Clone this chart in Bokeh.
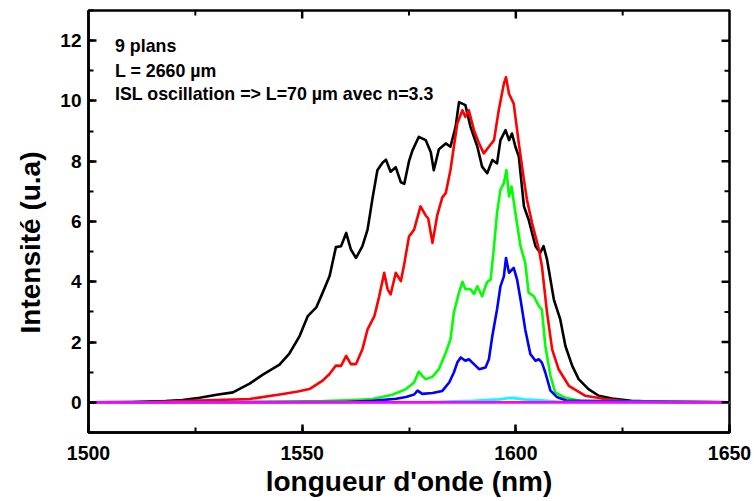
import numpy as np
from bokeh.plotting import figure
from bokeh.models import Range1d, SingleIntervalTicker, Label, Title
from bokeh.embed import file_html
from bokeh.resources import INLINE

# ---- data ----
black_x = [1500, 1510, 1518, 1522, 1526, 1530, 1533.8, 1537.7, 1540.8, 1544.7, 1547.0, 1549.4,
           1551.3, 1553.3, 1554.8, 1556.4, 1557.9, 1559.1, 1560.3, 1561.4, 1562.6, 1564.1, 1565.3,
           1566.5, 1567.6, 1568.8, 1569.6, 1570.7, 1571.9, 1573.1, 1573.9, 1575.0, 1575.8, 1577.3,
           1578.9, 1580.1, 1580.8, 1582.0, 1583.6, 1584.7, 1585.9, 1586.7, 1588.2, 1589.4, 1591.0,
           1592.1, 1593.3, 1594.5, 1595.6, 1596.4, 1597.6, 1598.4, 1599.1, 1599.9, 1600.7, 1601.9,
           1603.0, 1604.6, 1605.7, 1606.5, 1607.3, 1608.9, 1610.4, 1611.6, 1613.2, 1614.7, 1617.0,
           1619.4, 1622.5, 1627, 1635, 1650]
black_y = [0.0, 0.01, 0.04, 0.08, 0.15, 0.25, 0.33, 0.62, 0.92, 1.25, 1.62, 2.2,
           2.86, 3.15, 3.64, 4.18, 5.15, 5.18, 5.62, 5.07, 4.79, 5.18, 5.73,
           6.8, 7.7, 7.95, 8.05, 7.65, 7.8, 7.3, 7.25, 8.0, 8.35, 8.81,
           8.7, 8.3, 7.7, 8.4, 8.59, 8.48, 9.14, 9.96, 9.86, 9.14, 8.48,
           7.82, 7.6, 8.04, 7.93, 8.7, 9.03, 8.7, 8.92, 8.48, 8.15, 6.5,
           6.06, 5.18, 4.96, 5.18, 4.74, 3.41, 2.75, 1.87, 1.21, 0.77, 0.44,
           0.22, 0.13, 0.05, 0.01, 0.0]

red_x = [1500, 1515, 1522, 1530, 1537.7, 1545.5, 1549, 1551.7, 1554.8, 1556.4, 1557.9, 1559.1,
         1560.3, 1561.4, 1562.6, 1564.1, 1565.3, 1566.9, 1568.0, 1569.2, 1570.0, 1570.7, 1571.9,
         1573.1, 1573.9, 1575.0, 1576.2, 1577.7, 1578.9, 1579.5, 1580.5, 1581.6, 1582.8, 1583.6,
         1584.7, 1585.5, 1586.3, 1587.5, 1588.2, 1589.0, 1590.2, 1591.4, 1592.5, 1593.7, 1594.9,
         1596.0, 1597.2, 1597.7, 1598.4, 1599.5, 1600.7, 1601.9, 1602.6, 1603.8, 1605.4, 1606.1,
         1607.3, 1608.5, 1610.0, 1612.4, 1616.2, 1620.9, 1626, 1650]
red_y = [0.0, 0.01, 0.04, 0.08, 0.11, 0.28, 0.36, 0.44, 0.72, 0.94, 1.22, 1.21,
         1.54, 1.27, 1.27, 1.76, 2.42, 2.86, 3.5, 4.3, 3.75, 3.58, 4.3,
         4.02, 4.6, 5.5, 5.73, 6.5, 6.2, 6.1, 5.29, 6.2, 6.8, 6.94,
         7.71, 8.48, 9.25, 9.69, 9.47, 9.69, 9.03, 8.59, 8.26, 8.48, 8.7,
         9.69, 10.57, 10.79, 10.24, 9.91, 8.59, 7.38, 6.72, 5.95, 5.07, 4.52,
         2.98, 1.76, 1.1, 0.55, 0.22, 0.11, 0.03, 0.0]

green_x = [1500, 1540, 1555, 1562, 1566.5, 1571.1, 1574.3, 1576.2, 1577.3, 1578.1, 1578.9, 1580.5,
           1582.0, 1583.6, 1584.7, 1585.5, 1586.7, 1587.5, 1588.2, 1589.4, 1590.2, 1591.0, 1592.1,
           1593.3, 1594.1, 1594.9, 1595.6, 1596.4, 1597.2, 1597.8, 1598.4, 1599.0, 1599.9, 1601.1,
           1602.2, 1603.0, 1604.2, 1605.4, 1606.1, 1606.9, 1608.1, 1609.2, 1611.6, 1615, 1650]
green_y = [0.0, 0.01, 0.04, 0.08, 0.11, 0.25, 0.44, 0.66, 1.02, 0.88, 0.77, 0.85,
           1.1, 1.65, 2.09, 2.98, 3.64, 4.0, 3.75, 3.75, 3.6, 3.85, 3.52,
           4.0, 4.07, 5.18, 6.28, 7.05, 7.27, 7.71, 6.83, 7.16, 6.28, 5.18,
           4.63, 3.64, 3.52, 3.19, 3.08, 1.87, 0.88, 0.33, 0.15, 0.05, 0.0]

blue_x = [1500, 1560, 1566.5, 1572, 1574.3, 1576.2, 1577.0, 1578.1, 1580.5, 1582.8, 1584.4, 1585.5,
          1586.3, 1587.1, 1588.2, 1589.0, 1590.2, 1591.4, 1592.9, 1593.7, 1594.5, 1595.6, 1596.4,
          1597.2, 1597.7, 1598.4, 1599.5, 1600.3, 1601.1, 1602.2, 1603.4, 1604.6, 1605.4, 1606.1,
          1606.9, 1608.1, 1609.6, 1612, 1650]
blue_y = [0.0, 0.01, 0.05, 0.12, 0.18, 0.26, 0.39, 0.28, 0.31, 0.38, 0.66, 0.99,
          1.32, 1.49, 1.38, 1.43, 1.27, 1.1, 1.16, 1.43, 2.2, 3.08, 3.85,
          4.18, 4.79, 4.3, 4.46, 4.07, 3.41, 2.42, 1.6, 1.38, 1.43, 1.32,
          0.99, 0.39, 0.18, 0.05, 0.0]

cyan_x = [1500, 1580, 1590, 1596, 1599, 1602, 1606, 1610, 1650]
cyan_y = [0.0, 0.01, 0.05, 0.1, 0.15, 0.1, 0.07, 0.02, 0.0]

magenta_x = [1500, 1550, 1600, 1650]
magenta_y = [0.0, 0.0, 0.0, 0.0]

# axes
x_start, x_end = 1500, 1650
y_start, y_end = -1, 13
x_major = [1550, 1600]
x_minor = [1525, 1575, 1625]
y_major = [0, 2, 4, 6, 8, 10, 12]
y_minor = [1, 3, 5, 7, 9, 11]

notes = ["9 plans", "L = 2660 \u00b5m", "ISL oscillation => L=70 \u00b5m avec n=3.3"]
note_y = [11.81, 10.98, 10.24]
note_x = 1506.2

x_label = "longueur d'onde (nm)"
y_label = "Intensit\u00e9 (u.a)"

FONT = "Liberation Sans"
W, H = 754, 501
BL, BR, BT, BB = 85, 25, 10, 69
MAJOR_PX, MINOR_PX = 8, 5

p = figure(width=W, height=H, output_backend="svg", toolbar_location=None,
           x_range=Range1d(x_start, x_end), y_range=Range1d(y_start, y_end),
           min_border_left=BL, min_border_right=BR, min_border_top=BT, min_border_bottom=BB,
           x_axis_label=x_label)
p.xgrid.visible = False
p.ygrid.visible = False
p.outline_line_color = "black"
p.outline_line_width = 2.5
p.background_fill_color = "white"
p.border_fill_color = "white"

p.xaxis.ticker = SingleIntervalTicker(interval=50, num_minor_ticks=2)
p.yaxis.ticker = SingleIntervalTicker(interval=2, num_minor_ticks=2)

for ax in list(p.xaxis) + list(p.yaxis):
    ax.axis_line_color = "black"
    ax.axis_line_width = 2.5
    ax.major_tick_in = MAJOR_PX
    ax.major_tick_out = 0
    ax.minor_tick_in = MINOR_PX
    ax.minor_tick_out = 0
    ax.major_tick_line_color = "black"
    ax.minor_tick_line_color = "black"
    ax.major_tick_line_width = 2.5
    ax.minor_tick_line_width = 2
    ax.major_label_text_font = FONT
    ax.major_label_text_font_style = "bold"
    ax.major_label_text_color = "black"
    ax.axis_label_text_font = FONT
    ax.axis_label_text_font_style = "bold"
    ax.axis_label_text_font_size = "28px"
    ax.axis_label_text_color = "black"
for ax in p.xaxis:
    ax.major_label_text_font_size = "19.5px"
    ax.major_label_standoff = 13
    ax.axis_label_standoff = 3
for ax in p.yaxis:
    ax.major_label_text_font_size = "19px"
    ax.major_label_standoff = 7

ytitle = Title(text=y_label, align="left", offset=99, text_font=FONT, text_font_style="bold",
               text_font_size="28px", text_color="black", standoff=24)
p.add_layout(ytitle, "left")

# curves
series = [(black_x, black_y, "black"), (red_x, red_y, "#ff0000"), (green_x, green_y, "#00ff00"),
          (blue_x, blue_y, "#0000ff"), (cyan_x, cyan_y, "#00ffff"), (magenta_x, magenta_y, "#ff00ff")]
for xs, ys, c in series:
    p.line(xs, ys, line_color=c, line_width=2.6, line_join="round")

# mirrored inward ticks on the top and right edges (broken lines with NaN gaps)
fw, fh = W - BL - BR, H - BT - BB
dy_per_px = (y_end - y_start) / fh
dx_per_px = (x_end - x_start) / fw
nan = float("nan")


def vertical_ticks(vals, edge, length):
    xs, ys = [], []
    for v in vals:
        xs += [v, v, nan]
        ys += [edge, edge + length, nan]
    return np.array(xs, dtype=float), np.array(ys, dtype=float)


def horizontal_ticks(vals, edge, length):
    xs, ys = [], []
    for v in vals:
        xs += [edge, edge + length, nan]
        ys += [v, v, nan]
    return np.array(xs, dtype=float), np.array(ys, dtype=float)


for vals, px, lw in ((x_major, MAJOR_PX, 2.5), (x_minor, MINOR_PX, 2)):
    xs, ys = vertical_ticks(vals, y_end, -px * dy_per_px)
    p.line(xs, ys, line_color="black", line_width=lw)
for vals, px, lw in ((y_major, MAJOR_PX, 2.5), (y_minor, MINOR_PX, 2)):
    xs, ys = horizontal_ticks(vals, x_end, -px * dx_per_px)
    p.line(xs, ys, line_color="black", line_width=lw)

for t, yv in zip(notes, note_y):
    p.add_layout(Label(x=note_x, y=yv, text=t, text_font=FONT, text_font_style="bold",
                       text_font_size="17.8px", text_color="black", text_baseline="alphabetic"))

open("out.html", "w").write(file_html(p, INLINE))
